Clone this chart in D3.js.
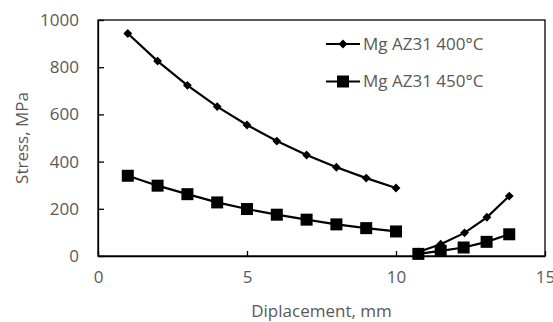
<!DOCTYPE html>
<style>
body { margin: 0; background: #fff; }
text { font-family: "Open Sans", sans-serif; }
</style>
<svg width="553" height="322"></svg>
<script src="https://d3js.org/d3.v7.min.js"></script>
<script>

// displacement (mm) -- null marks the break between the two loading stages
var disp400 = [1, 2, 3, 4, 5, 6, 7, 8, 9, 10, null, 10.75, 11.5, 12.3, 13.05, 13.8];
var stress400 = [943, 826, 723, 633, 555, 487, 428, 376, 330, 288, null, 17, 50, 98, 164, 254];

var disp450 = [1, 2, 3, 4, 5, 6, 7, 8, 9, 10, null, 10.75, 11.5, 12.27, 13.04, 13.8];
var stress450 = [340, 298, 262, 227, 199, 175, 154, 134, 118, 104, null, 9, 22, 36, 60, 92];

var xTicks = [0, 5, 10, 15];
var yTicks = [0, 200, 400, 600, 800, 1000];
var seriesNames = ["Mg AZ31 400°C", "Mg AZ31 450°C"];

var svg = d3.select("svg"),
    margin = {top: 20, right: 8, bottom: 66, left: 98},
    width = +svg.attr("width") - margin.left - margin.right,
    height = +svg.attr("height") - margin.top - margin.bottom,
    g = svg.append("g").attr("transform", "translate(" + margin.left + "," + margin.top + ")");

var x = d3.scaleLinear().domain([0, 15]).range([0, width]);
var y = d3.scaleLinear().domain([0, 1000]).range([height, 0]);

var grey = "#595959",
    fs = 17;

// frame
g.append("rect")
    .attr("width", width)
    .attr("height", height)
    .attr("fill", "none")
    .attr("stroke", "#000")
    .attr("stroke-width", 1.3);

var xAxis = g.append("g")
    .attr("transform", "translate(0," + height + ")")
    .call(d3.axisBottom(x).tickValues(xTicks).tickFormat(d3.format("d"))
      .tickSizeInner(-5).tickSizeOuter(0).tickPadding(15));

var yAxis = g.append("g")
    .call(d3.axisLeft(y).tickValues(yTicks).tickFormat(d3.format("d"))
      .tickSizeInner(-6).tickSizeOuter(0).tickPadding(19));

[xAxis, yAxis].forEach(function(a) {
  a.select(".domain").attr("stroke", "#000").attr("stroke-width", 1.3);
  a.selectAll(".tick line").attr("stroke", "#000").attr("stroke-width", 1.3);
  a.selectAll(".tick text")
      .attr("fill", grey)
      .attr("font-size", fs)
      .style("font-family", "'Open Sans', sans-serif");
});

g.append("text")
    .attr("x", width / 2)
    .attr("y", height + 61)
    .attr("text-anchor", "middle")
    .attr("fill", grey)
    .attr("font-size", fs)
    .text("Diplacement, mm");

g.append("text")
    .attr("transform", "translate(-76," + (height / 2) + ") rotate(-90)")
    .attr("text-anchor", "middle")
    .attr("dy", "0.35em")
    .attr("fill", grey)
    .attr("font-size", fs)
    .text("Stress, MPa");

function pts(xs, ys) {
  return xs.map(function(d, i) { return {x: d, y: ys[i]}; });
}

var line = d3.line()
    .defined(function(d) { return d.x != null; })
    .x(function(d) { return x(d.x); })
    .y(function(d) { return y(d.y); });

var s400 = pts(disp400, stress400),
    s450 = pts(disp450, stress450);

[s400, s450].forEach(function(s) {
  g.append("path")
      .datum(s)
      .attr("fill", "none")
      .attr("stroke", "#000")
      .attr("stroke-width", 2.2)
      .attr("d", line);
});

var diamond = d3.symbol().type(d3.symbolDiamond2).size(50);

g.selectAll(".dia")
    .data(s400.filter(function(d) { return d.x != null; }))
    .enter().append("path")
      .attr("class", "dia")
      .attr("transform", function(d) { return "translate(" + x(d.x) + "," + y(d.y) + ")"; })
      .attr("d", diamond)
      .attr("fill", "#000");

g.selectAll(".sq")
    .data(s450.filter(function(d) { return d.x != null; }))
    .enter().append("rect")
      .attr("class", "sq")
      .attr("x", function(d) { return x(d.x) - 6; })
      .attr("y", function(d) { return y(d.y) - 6; })
      .attr("width", 12)
      .attr("height", 12)
      .attr("fill", "#000");

// legend
var legend = g.append("g")
    .attr("transform", "translate(" + (326 - margin.left) + ",0)")
  .selectAll("g")
  .data(seriesNames)
  .enter().append("g")
    .attr("transform", function(d, i) { return "translate(0," + (24 + i * 37.5) + ")"; });

legend.append("line")
    .attr("x1", 0)
    .attr("x2", 34)
    .attr("stroke", "#000")
    .attr("stroke-width", 2.2);

legend.each(function(d, i) {
  var l = d3.select(this);
  if (i === 0) {
    l.append("path").attr("transform", "translate(17,0)").attr("d", diamond).attr("fill", "#000");
  } else {
    l.append("rect").attr("x", 11).attr("y", -6).attr("width", 12).attr("height", 12).attr("fill", "#000");
  }
});

legend.append("text")
    .attr("x", 37)
    .attr("dy", "0.35em")
    .attr("fill", grey)
    .attr("font-size", fs)
    .text(function(d) { return d; });

</script>
